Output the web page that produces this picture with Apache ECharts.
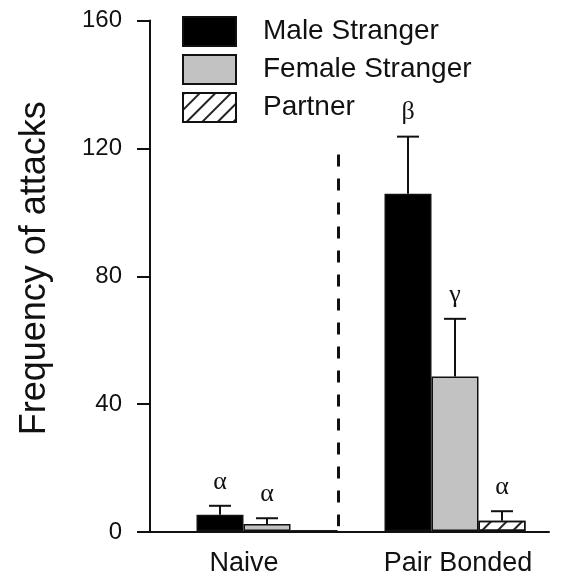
<!DOCTYPE html>
<html><head><meta charset="utf-8">
<script src="https://cdn.jsdelivr.net/npm/echarts@6/dist/echarts.min.js"></script>
<style>html,body{margin:0;padding:0;background:#fff}#c{width:572px;height:577px}</style>
</head><body><div id="c"></div>
<script>
// ---- data ----
const categories = ['Naive', 'Pair Bonded'];
const seriesNames = ['Male Stranger', 'Female Stranger', 'Partner'];
const maleValues = [5.1, 105.7];
const maleSem = [2.8, 17.9];
const femaleValues = [2.2, 48.4];
const femaleSem = [1.8, 18.1];
const partnerValues = [0, 3.2];
const partnerSem = [0, 3.0];
const maleLetters = ['α', 'β'];
const femaleLetters = ['α', 'γ'];
const partnerLetters = ['', 'α'];
const yTicks = [0, 40, 80, 120, 160];
const yTitle = 'Frequency of attacks';

// ---- styling ----
const SANS = 'Liberation Sans, Arial, Helvetica, sans-serif';
const SERIF = 'Liberation Serif, Times New Roman, serif';
const INK = '#111';
const BAR_W = 47;
const CAP_W = 22;
const LABEL_GAP = 24;
const DIV_TOP = 118;
const DIV_BOTTOM = 1.5;

const allValues = [maleValues, femaleValues, partnerValues];
const allSem = [maleSem, femaleSem, partnerSem];
const allLetters = [maleLetters, femaleLetters, partnerLetters];
const errRows = [];
categories.forEach((c, i) => {
  for (let s = 0; s < 3; s++) {
    errRows.push({cat: i, s: s, val: allValues[s][i], sem: allSem[s][i], letter: allLetters[s][i]});
  }
});

const chart = echarts.init(document.getElementById('c'), null, {renderer: 'canvas'});

const barStyles = [
  {color: '#000', borderColor: INK, borderWidth: 1.5},
  {color: '#c2c2c2', borderColor: INK, borderWidth: 1.5},
  {color: '#fff', borderColor: INK, borderWidth: 1.5,
   decal: {symbol: 'rect', symbolSize: 1, color: '#222', dashArrayX: [[1, 0]], dashArrayY: [1.6, 8.5], rotation: -Math.PI / 4}}
];

const gridTop = 20.5, gridH = 511.5;

const option = {
  backgroundColor: '#fff',
  animation: false,
  aria: {enabled: false},
  grid: [
    {left: 150, top: gridTop, width: 399, height: gridH},
    {left: 173, top: gridTop, width: 376, height: gridH}
  ],
  legend: {
    orient: 'vertical', left: 177, top: 11,
    itemWidth: 53, itemHeight: 29, itemGap: 7,
    icon: 'rect', selectedMode: false,
    data: seriesNames,
    textStyle: {fontFamily: SANS, fontSize: 28, color: INK, padding: [0, 0, 0, 22]}
  },
  xAxis: [
    {gridIndex: 0, type: 'value', min: 0, max: 1,
     axisLine: {show: true, lineStyle: {color: INK, width: 2}},
     axisTick: {show: false}, axisLabel: {show: false}, splitLine: {show: false}},
    {gridIndex: 1, type: 'category', data: categories,
     axisLine: {show: false}, axisTick: {show: false}, splitLine: {show: false},
     axisLabel: {
       interval: 0, margin: 19, color: INK, fontFamily: SANS, fontSize: 27,
       formatter: (v, i) => i === 0 ? '{a|' + v + '}' : '{b|' + v + '}',
       rich: {
         a: {fontFamily: SANS, fontSize: 27, color: INK, padding: [0, 46, 0, 0]},
         b: {fontFamily: SANS, fontSize: 27, color: INK, padding: [0, 0, 0, 6]}
       }
     }}
  ],
  yAxis: [
    {gridIndex: 0, type: 'value', min: yTicks[0], max: yTicks[yTicks.length - 1], interval: yTicks[1] - yTicks[0],
     axisLine: {show: true, lineStyle: {color: INK, width: 2}},
     axisTick: {show: true, length: 13, lineStyle: {color: INK, width: 2}},
     axisLabel: {margin: 28, color: INK, fontFamily: SANS, fontSize: 24},
     splitLine: {show: false},
     name: yTitle, nameLocation: 'middle', nameRotate: 90, nameGap: 97,
     nameTextStyle: {fontFamily: SANS, fontSize: 36, color: INK, padding: [0, 0, 0, 16]}},
    {gridIndex: 1, type: 'value', min: yTicks[0], max: yTicks[yTicks.length - 1], show: false}
  ],
  series: [
    ...seriesNames.map((n, s) => ({
      name: n, type: 'bar', xAxisIndex: 1, yAxisIndex: 1,
      data: allValues[s], barWidth: BAR_W, barGap: '0%',
      itemStyle: barStyles[s], emphasis: {disabled: true}
    })),
    {
      type: 'custom', xAxisIndex: 1, yAxisIndex: 1, z: 5, silent: true,
      data: errRows.map(r => [r.cat, r.val, r.sem]),
      renderItem: (params, api) => {
        const r = errRows[params.dataIndex];
        if (!r.sem && !r.letter) return null;
        const base = api.coord([r.cat, r.val]);
        const x = base[0] + (r.s - 1) * BAR_W;
        const yTop = api.coord([r.cat, r.val + r.sem])[1];
        const ls = {stroke: INK, lineWidth: 2};
        return {type: 'group', children: [
          {type: 'line', shape: {x1: x, y1: base[1], x2: x, y2: yTop}, style: ls},
          {type: 'line', shape: {x1: x - CAP_W / 2, y1: yTop, x2: x + CAP_W / 2, y2: yTop}, style: ls},
          {type: 'text', style: {text: r.letter, x: x, y: yTop - LABEL_GAP, align: 'center', verticalAlign: 'middle',
            font: '26px ' + SERIF, fill: INK}}
        ]};
      }
    },
    {
      type: 'custom', xAxisIndex: 1, yAxisIndex: 1, z: 5, silent: true,
      data: [[0, DIV_TOP]],
      renderItem: (params, api) => {
        const x = api.coord([0, 0])[0] + 1.5 * BAR_W + 1;
        const y1 = api.coord([0, DIV_TOP])[1];
        const y2 = api.coord([0, DIV_BOTTOM])[1];
        return {type: 'line', shape: {x1: x, y1: y1, x2: x, y2: y2},
          style: {stroke: INK, lineWidth: 3, lineDash: [12, 12]}};
      }
    }
  ]
};
chart.setOption(option);
</script>
</body></html>
